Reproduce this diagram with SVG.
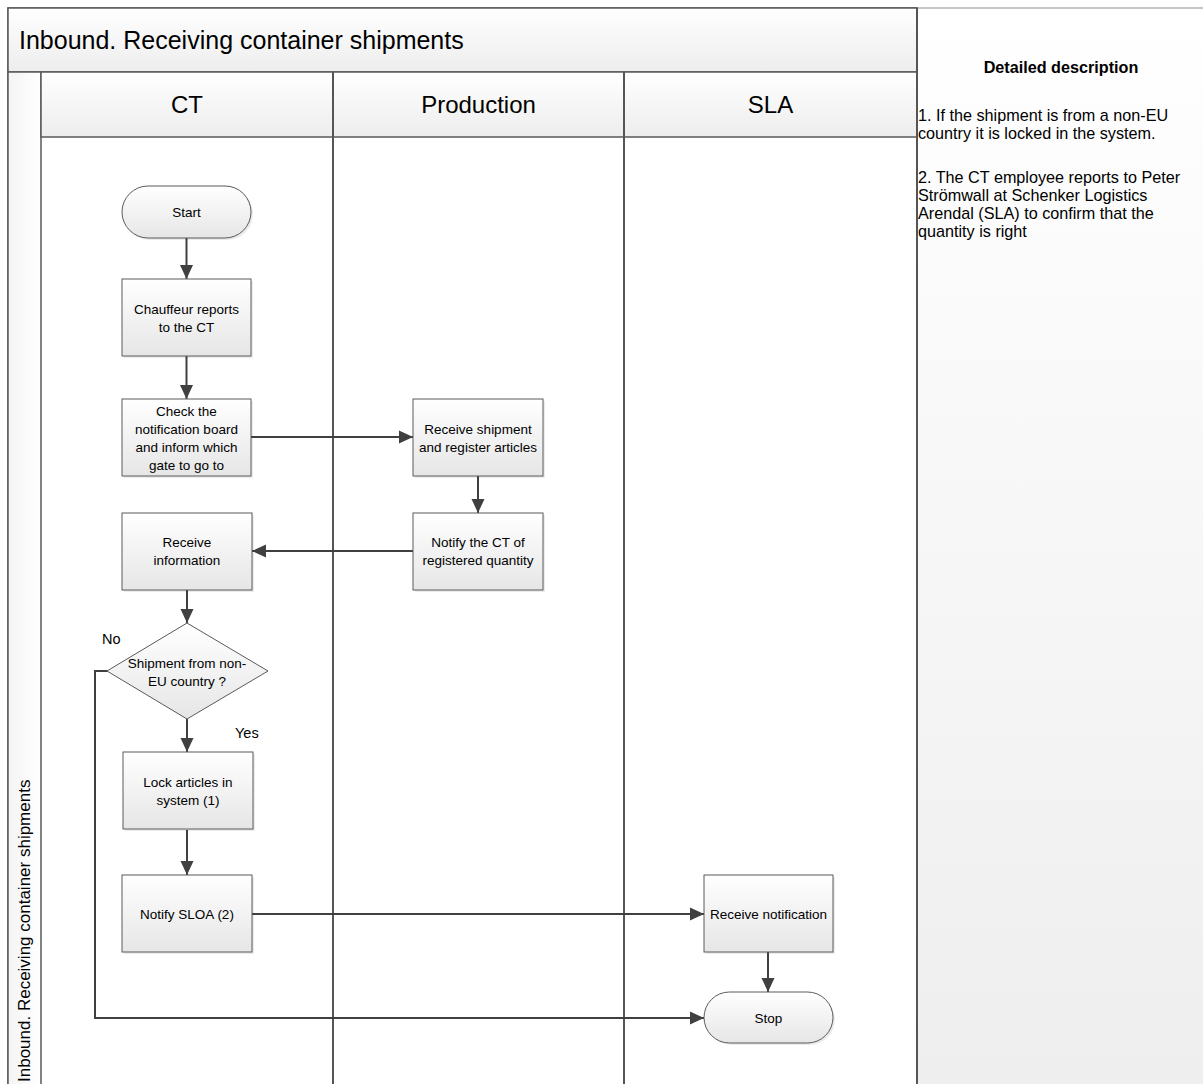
<svg xmlns="http://www.w3.org/2000/svg" width="1203" height="1084" viewBox="0 0 1203 1084">
  <defs>
    <linearGradient id="gBand" x1="0" y1="0" x2="0" y2="1">
      <stop offset="0" stop-color="#ffffff"/>
      <stop offset="1" stop-color="#ededed"/>
    </linearGradient>
    <linearGradient id="gStrip" x1="0" y1="0" x2="1" y2="0">
      <stop offset="0" stop-color="#f4f4f4"/>
      <stop offset="1" stop-color="#ffffff"/>
    </linearGradient>
    <linearGradient id="gNode" x1="0" y1="0" x2="0" y2="1">
      <stop offset="0" stop-color="#ffffff"/>
      <stop offset="1" stop-color="#e6e6e6"/>
    </linearGradient>
    <linearGradient id="gPanel" x1="0" y1="0" x2="0" y2="1">
      <stop offset="0" stop-color="#ffffff"/>
      <stop offset="1" stop-color="#eeeeee"/>
    </linearGradient>
    <marker id="arrow" viewBox="0 0 14 14" refX="14" refY="7" markerWidth="14" markerHeight="14" markerUnits="userSpaceOnUse" orient="auto">
      <path d="M0,0.5 L14,7 L0,13.5 Z" fill="#404040"/>
    </marker>
    <style>
      .lane { stroke: #555555; stroke-width: 2; fill: none; }
      .frame { stroke: #595959; stroke-width: 1.5; }
      .node { fill: url(#gNode); stroke: #5a5a5a; stroke-width: 1; }
      .shadow { fill: #000000; opacity: 0.08; }
      .conn { stroke: #404040; stroke-width: 2; fill: none; marker-end: url(#arrow); }
      text { font-family: "Liberation Sans", Arial, sans-serif; fill: #000000; }
      .t { font-size: 13.5px; text-anchor: middle; }
      .hdr { font-size: 24px; text-anchor: middle; }
      .title { font-size: 25px; }
      .desc { font-size: 16.2px; }
      .lbl { font-size: 14.5px; }
    </style>
  </defs>

  <!-- description panel -->
  <g id="panel">
    <rect x="917" y="8" width="290" height="1080" fill="url(#gPanel)"/>
    <line x1="917" y1="8" x2="1203" y2="8" stroke="#8c8c8c" stroke-width="1"/>
    <text class="desc" x="1061" y="73" text-anchor="middle" font-weight="bold" font-size="15.5px">Detailed description</text>
    <text class="desc" x="918" y="121">1. If the shipment is from a non-EU</text>
    <text class="desc" x="918" y="139">country it is locked in the system.</text>
    <text class="desc" x="918" y="183">2. The CT employee reports to Peter</text>
    <text class="desc" x="918" y="201">Strömwall at Schenker Logistics</text>
    <text class="desc" x="918" y="219">Arendal (SLA) to confirm that the</text>
    <text class="desc" x="918" y="237">quantity is right</text>
  </g>

  <!-- pool with title band, side strip and lanes -->
  <g id="pool">
    <rect x="8" y="8" width="909" height="1090" fill="#ffffff" class="frame"/>
    <rect x="8" y="8" width="909" height="64" fill="url(#gBand)" class="frame"/>
    <text class="title" x="19" y="49">Inbound. Receiving container shipments</text>
    <rect x="8" y="72" width="33" height="1030" fill="url(#gStrip)" class="frame"/>
    <text font-size="17px" transform="translate(30,1082) rotate(-90)">Inbound. Receiving container shipments</text>
  </g>

  <g id="lane-ct">
    <rect x="41" y="72" width="292" height="65" fill="url(#gBand)" class="frame"/>
    <text class="hdr" x="187" y="113">CT</text>
  </g>
  <g id="lane-production">
    <rect x="333" y="72" width="291" height="65" fill="url(#gBand)" class="frame"/>
    <text class="hdr" x="478.5" y="113">Production</text>
  </g>
  <g id="lane-sla">
    <rect x="624" y="72" width="293" height="65" fill="url(#gBand)" class="frame"/>
    <text class="hdr" x="770.5" y="113">SLA</text>
  </g>
  <g id="lane-lines">
    <line class="lane" x1="333" y1="72" x2="333" y2="1090"/>
    <line class="lane" x1="624" y1="72" x2="624" y2="1090"/>
    <line class="lane" x1="917" y1="8" x2="917" y2="1090"/>
  </g>

  <!-- connectors -->
  <g id="connectors">
    <line class="conn" x1="186.5" y1="238" x2="186.5" y2="279"/>
    <line class="conn" x1="186.5" y1="356" x2="186.5" y2="399"/>
    <line class="conn" x1="251" y1="437" x2="413" y2="437"/>
    <line class="conn" x1="478" y1="476" x2="478" y2="513"/>
    <line class="conn" x1="413" y1="551" x2="252" y2="551"/>
    <line class="conn" x1="187" y1="590" x2="187" y2="623"/>
    <line class="conn" x1="187" y1="719" x2="187" y2="752"/>
    <line class="conn" x1="187" y1="830" x2="187" y2="875"/>
    <line class="conn" x1="252" y1="914" x2="704" y2="914"/>
    <line class="conn" x1="768" y1="952" x2="768" y2="992"/>
    <polyline class="conn" points="108,671 95,671 95,1018 704,1018"/>
    <text class="lbl" x="102" y="644">No</text>
    <text class="lbl" x="235" y="738">Yes</text>
  </g>

  <!-- flow nodes -->
  <g id="start">
    <rect class="shadow" x="124" y="188" width="129" height="52" rx="26"/>
    <rect class="node" x="122" y="186" width="129" height="52" rx="26"/>
    <text class="t" x="186.5" y="217">Start</text>
  </g>
  <g id="chauffeur-reports">
    <rect class="shadow" x="124" y="281" width="129" height="77"/>
    <rect class="node" x="122" y="279" width="129" height="77"/>
    <text class="t" x="186.5" y="314">Chauffeur reports</text>
    <text class="t" x="186.5" y="332">to the CT</text>
  </g>
  <g id="check-board">
    <rect class="shadow" x="124" y="401" width="129" height="77"/>
    <rect class="node" x="122" y="399" width="129" height="77"/>
    <text class="t" x="186.5" y="416">Check the</text>
    <text class="t" x="186.5" y="434">notification board</text>
    <text class="t" x="186.5" y="452">and inform which</text>
    <text class="t" x="186.5" y="470">gate to go to</text>
  </g>
  <g id="receive-shipment">
    <rect class="shadow" x="415" y="401" width="130" height="77"/>
    <rect class="node" x="413" y="399" width="130" height="77"/>
    <text class="t" x="478" y="434">Receive shipment</text>
    <text class="t" x="478" y="452">and register articles</text>
  </g>
  <g id="notify-ct">
    <rect class="shadow" x="415" y="515" width="130" height="77"/>
    <rect class="node" x="413" y="513" width="130" height="77"/>
    <text class="t" x="478" y="547">Notify the CT of</text>
    <text class="t" x="478" y="565">registered quantity</text>
  </g>
  <g id="receive-information">
    <rect class="shadow" x="124" y="515" width="130" height="77"/>
    <rect class="node" x="122" y="513" width="130" height="77"/>
    <text class="t" x="187" y="547">Receive</text>
    <text class="t" x="187" y="565">information</text>
  </g>
  <g id="non-eu-decision">
    <polygon class="node" points="187,623 268,671 187,719 107,671"/>
    <text class="t" x="187" y="668">Shipment from non-</text>
    <text class="t" x="187" y="686">EU country ?</text>
  </g>
  <g id="lock-articles">
    <rect class="shadow" x="125" y="754" width="130" height="77"/>
    <rect class="node" x="123" y="752" width="130" height="77"/>
    <text class="t" x="188" y="787">Lock articles in</text>
    <text class="t" x="188" y="805">system (1)</text>
  </g>
  <g id="notify-sloa">
    <rect class="shadow" x="124" y="877" width="130" height="77"/>
    <rect class="node" x="122" y="875" width="130" height="77"/>
    <text class="t" x="187" y="919">Notify SLOA (2)</text>
  </g>
  <g id="receive-notification">
    <rect class="shadow" x="706" y="877" width="129" height="77"/>
    <rect class="node" x="704" y="875" width="129" height="77"/>
    <text class="t" x="768.5" y="919">Receive notification</text>
  </g>
  <g id="stop">
    <rect class="shadow" x="706" y="994" width="129" height="51" rx="25.5"/>
    <rect class="node" x="704" y="992" width="129" height="51" rx="25.5"/>
    <text class="t" x="768.5" y="1023">Stop</text>
  </g>
</svg>
